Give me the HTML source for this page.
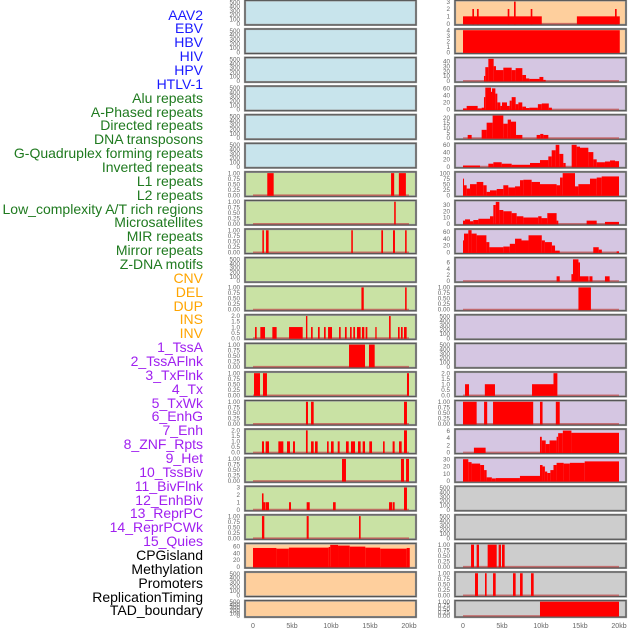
<!DOCTYPE html>
<html><head><meta charset="utf-8">
<style>
html,body{margin:0;padding:0;background:#fff;}
body{width:630px;height:630px;overflow:hidden;position:relative;font-family:"Liberation Sans",sans-serif;}
#labels{position:absolute;left:0;top:0;width:630px;height:630px;}
.lab{position:absolute;right:427px;font-size:14px;line-height:14px;white-space:nowrap;}
svg{position:absolute;left:0;top:0;}
</style></head><body>
<div id="labels"></div>
<svg id="chart" width="630" height="630"></svg>
<script>
// ---- Track labels ----
const labelNames = ["AAV2","EBV","HBV","HIV","HPV","HTLV-1","Alu repeats","A-Phased repeats","Directed repeats","DNA transposons","G-Quadruplex forming repeats","Inverted repeats","L1 repeats","L2 repeats","Low_complexity A/T rich regions","Microsatellites","MIR repeats","Mirror repeats","Z-DNA motifs","CNV","DEL","DUP","INS","INV","1_TssA","2_TssAFlnk","3_TxFlnk","4_Tx","5_TxWk","6_EnhG","7_Enh","8_ZNF_Rpts","9_Het","10_TssBiv","11_BivFlnk","12_EnhBiv","13_ReprPC","14_ReprPCWk","15_Quies","CPGisland","Methylation","Promoters","ReplicationTiming","TAD_boundary"];
const labelGroups = [6,13,5,15,5];
const groupColors = ["#1a1aff","#1f7a1f","#ffa500","#a020f0","#000000"];

// ---- tick label sets ----
const T500 = [0,100,200,300,400,500];
const T1 = [0,0.25,0.5,0.75,1];
const T2 = [0,0.5,1,1.5,2];
const T3 = [0,1,2,3];
const T4 = [0,1,2,3,4];
const T40 = [0,10,20,30,40];
const T60 = [0,20,40,60];
const T20 = [0,5,10,15,20];
const T100 = [0,25,50,75,100];
const T30 = [0,10,20,30];
const T6 = [0,2,4,6];
const xTicks = [0,5,10,15,20];
const xTickLabels = ["0","5kb","10kb","15kb","20kb"];

// ---- data: [startKb, endKb, value] ----
const L6 = [[1.83,2.65,1],[17.7,18.1,1],[18.7,19.6,1]];
const L7 = [[18.1,18.3,1]];
const L8 = [[1.2,1.4,1],[1.67,2.0,1],[12.6,12.8,1],[16.45,16.67,1],[17.95,18.2,1],[19.5,19.7,1]];
const L10 = [[13.9,14.2,1],[19.5,19.7,1]];
const L11 = [[0.26,0.47,1],[0.94,1.54,1],[2.48,3.03,1],[4.62,6.37,1],[6.79,6.97,2],[7.44,7.65,1],[8.33,8.55,1],[9.1,9.32,1],[9.62,10.13,1],[11.03,11.24,1],[11.79,12.01,1],[12.44,12.65,1],[12.86,13.08,1],[13.33,13.8,1],[13.97,14.27,1],[14.44,14.66,1],[15.68,15.85,1],[17.44,17.65,2],[18.59,18.8,1],[18.97,19.19,1],[19.36,19.7,1]];
const L12 = [[12.31,14.36,1],[14.87,15.6,1]];
const L13 = [[0.13,0.9,1],[1.28,1.79,1],[19.74,20.0,1]];
const L14 = [[6.79,7.05,1],[7.44,7.78,1],[19.36,19.74,1]];
const L15 = [[1.15,1.41,1],[1.62,2.05,1],[3.25,3.89,1],[4.36,4.74,1],[5.13,5.38,1],[6.79,7.01,2],[7.44,7.78,1],[7.95,8.29,1],[9.49,9.7,1],[10.0,10.34,1],[10.86,11.11,1],[11.92,12.27,1],[12.56,13.08,1],[13.46,13.8,1],[14.06,14.36,1],[14.91,15.26,1],[16.67,16.88,1],[17.9,18.16,1],[18.72,19.06,1],[19.36,19.74,2]];
const L16 = [[11.41,11.92,1],[18.97,19.36,1],[19.62,20.0,1]];
const L17 = [[1.15,1.35,2.2],[1.35,1.55,1],[1.6,2.05,1],[4.62,4.87,1],[6.88,7.27,1],[10.26,10.6,1],[17.44,17.82,1],[17.9,18.16,1],[19.36,19.74,3]];
const L18 = [[1.15,1.45,1],[6.88,7.14,1],[13.59,13.8,1]];
const L19 = [[0,3.0,55],[3.0,4.6,53],[4.6,9.7,56],[9.7,9.9,58],[9.9,10.9,64],[10.9,12.4,62],[12.4,14.4,59],[14.4,16.3,56],[16.3,19.7,53],[19.7,20.1,55]];

const R0 = [[0,10.1,1],[1.2,1.41,2],[1.79,2.01,2],[5.73,5.94,2],[6.54,6.75,3],[8.68,8.89,2],[14.6,20.1,1],[19.49,19.7,2]];
const R1 = [[0,20.1,4]];
const R2 = [[2.69,2.86,10],[2.86,3.25,28],[3.25,3.93,45],[3.93,4.23,30],[4.23,5.17,22],[5.17,6.24,27],[6.24,6.75,22],[6.75,7.61,26],[7.61,8.08,12],[8.08,8.5,5],[8.5,9.8,4],[9.8,10.3,8],[10.3,10.6,2]];
const R3 = [[0,0.47,3],[0.47,1.88,10],[1.88,2.39,3],[2.39,2.69,5],[2.69,2.86,35],[2.86,3.59,62],[3.59,3.72,50],[3.72,4.15,60],[4.15,4.4,45],[4.4,4.79,20],[4.79,5.0,10],[5.0,5.64,20],[5.64,5.98,10],[5.98,6.24,25],[6.24,6.75,35],[6.75,7.1,15],[7.1,7.6,20],[7.6,8.08,8],[8.08,8.5,4],[8.5,9.6,5],[9.6,10.1,15],[10.1,11.0,17],[11.0,11.4,5]];
const R4 = [[0.6,1.11,3],[2.39,3.03,8],[3.03,3.8,15],[3.8,5.17,22],[5.17,5.73,14],[5.73,6.15,18],[6.15,6.8,16],[6.8,7.61,3],[9.44,9.9,3],[9.9,10.3,4],[10.3,10.94,3]];
const R5 = [[0,2.18,3],[3.25,3.89,8],[3.89,4.96,12],[4.96,6.24,8],[6.24,8.59,5],[8.59,9.87,10],[9.87,10.94,18],[10.94,11.37,28],[11.37,11.88,45],[11.88,12.35,60],[12.35,12.86,35],[12.86,13.16,10],[13.93,14.57,60],[14.57,15.0,55],[15.0,16.07,52],[16.07,16.71,40],[16.71,17.14,20],[17.14,18.2,12],[18.2,18.85,14],[18.85,19.49,17],[19.49,20.0,15]];
const R6 = [[0,0.13,75],[0.13,0.47,45],[0.47,0.9,30],[0.9,1.75,50],[1.75,2.6,60],[2.6,3.03,45],[3.03,3.46,15],[3.46,4.32,22],[4.32,5.17,28],[5.17,5.81,45],[5.81,6.67,35],[6.67,7.31,40],[7.31,7.74,68],[7.74,8.8,70],[8.8,9.87,60],[9.87,12.0,50],[12.0,12.44,45],[12.44,12.78,80],[12.78,14.36,100],[14.36,14.79,40],[14.79,16.28,50],[16.28,17.14,75],[17.14,17.78,80],[17.78,20.0,85]];
const R7 = [[0,0.26,5],[0.26,0.9,7],[0.9,1.32,4],[1.32,1.97,6],[1.97,3.46,8],[3.46,3.89,12],[3.89,4.2,30],[4.2,4.66,35],[4.66,5.17,22],[5.17,6.24,20],[6.24,6.88,17],[6.88,7.74,12],[7.74,9.64,10],[9.64,10.07,12],[10.07,10.81,9],[10.81,12.0,17],[12.0,12.22,5],[15.85,17.14,5],[18.2,20.0,3]];
const R8 = [[0,0.13,35],[0.13,0.68,55],[0.68,1.1,65],[1.1,1.75,55],[1.75,3.0,50],[3.0,3.38,30],[3.38,5.17,15],[5.17,6.0,17],[6.0,6.67,25],[6.67,7.5,40],[7.5,8.4,35],[8.4,10.1,50],[10.1,10.5,35],[10.5,11.4,30],[11.4,11.8,20],[11.8,12.4,5],[16.7,17.4,15],[17.4,17.8,8],[19.7,20.0,3]];
const R9 = [[12.0,12.4,1.5],[13.9,14.1,2.2],[14.1,14.8,7],[14.8,15.0,6],[15.0,16.1,1.5],[16.2,16.6,1.5],[18.2,18.8,1.5]];
const R10 = [[14.8,16.4,1]];
const R13 = [[0.26,0.77,1],[2.8,4.1,1],[8.85,11.6,1],[11.6,12.1,2]];
const R14 = [[0,1.75,1],[2.7,3.1,1],[3.85,9.0,1],[9.87,10.2,1],[11.9,12.4,1]];
const R15 = [[1.4,2.9,1.3],[9.87,10.1,4.3],[10.1,10.6,3.3],[10.6,11.1,2.3],[11.1,12.0,3.3],[12.0,12.2,4.3],[12.2,12.8,5.3],[12.8,13.9,6],[13.9,20.0,5.4]];
const R16 = [[0,0.68,30],[0.68,1.1,26],[1.1,2.2,24],[2.2,2.7,22],[2.7,3.03,15],[3.03,3.7,5],[3.7,4.2,3.5],[4.2,7.3,4],[7.3,9.87,7],[9.87,10.2,22],[10.2,10.5,20],[10.5,10.8,13],[10.8,11.2,11],[11.2,11.6,15],[11.6,12.0,22],[12.0,12.9,25],[12.9,13.7,24],[13.7,15.6,25],[15.6,20.0,27]];
const R19 = [[1.03,1.41,1],[1.75,2.05,1],[3.16,4.32,1],[4.57,4.87,1],[5.0,5.34,1]];
const R20 = [[1.54,1.92,1],[2.82,3.03,1],[3.85,4.19,1],[6.41,6.75,1],[7.31,7.65,1],[8.72,9.06,1]];
const R21 = [[9.87,20.0,1]];

const BG = {blue:"#c8e4ec",green:"#c9e2a4",peach:"#fecf9d",lav:"#d5c6e2",gray:"#cdcdcd"};
// panel definitions: [bg, ticks, ymax, data, tick format]
const leftPanels = [
 ["blue",T500,520,null,0],["blue",T500,520,null,0],["blue",T500,520,null,0],["blue",T500,520,null,0],["blue",T500,520,null,0],["blue",T500,520,null,0],
 ["green",T1,1.02,L6,2],["green",T1,1.02,L7,2],["green",T1,1.02,L8,2],["green",T500,520,null,0],["green",T1,1.02,L10,2],
 ["green",T2,2.04,L11,1],["green",T1,1.02,L12,2],["green",T1,1.02,L13,2],["green",T1,1.02,L14,2],["green",T2,2.04,L15,1],
 ["green",T1,1.02,L16,2],["green",T3,3.06,L17,0],["green",T1,1.02,L18,2],
 ["peach",T60,66,L19,0],["peach",T500,520,null,0],["peach",T500,520,null,0]
];
const rightPanels = [
 ["peach",T3,3.06,R0,0],["peach",T4,4.08,R1,0],["lav",T40,46,R2,0],["lav",T60,64,R3,0],["lav",T20,22,R4,0],["lav",T60,62,R5,0],
 ["lav",T100,102,R6,0],["lav",T30,36,R7,0],["lav",T60,66,R8,0],["lav",T6,7.3,R9,0],["lav",T1,1.02,R10,2],["lav",T500,520,null,0],
 ["lav",T500,520,null,0],["lav",T2,2.04,R13,1],["lav",T1,1.02,R14,2],["lav",T6,6.2,R15,0],["lav",T30,31,R16,0],
 ["gray",T500,520,null,0],["gray",T500,520,null,0],["gray",T1,1.02,R19,2],["gray",T1,1.02,R20,2],["gray",T1,1.02,R21,2]
];

// labels
const labDiv = document.getElementById('labels');
let gi = 0, gc = 0;
labelNames.forEach((n,i)=>{
  while (gc >= labelGroups[gi]) { gi++; gc = 0; }
  gc++;
  const d = document.createElement('div');
  d.className = 'lab';
  
  
  d.style.top = (7.5 + 13.86*i) + 'px';
  d.style.color = groupColors[gi];
  d.textContent = n;
  labDiv.appendChild(d);
});

const NS = "http://www.w3.org/2000/svg";
const svg = document.getElementById('chart');
function mk(tag, attrs, parent){ const e=document.createElementNS(NS,tag); for(const k in attrs) e.setAttribute(k,attrs[k]); (parent||svg).appendChild(e); return e; }

const cols = [{x0:245,x1:416,k0:253,k1:409,tx:240},{x0:455,x1:626,k0:463,k1:619,tx:450}];
function rowTop(i){ return 0.4 + 28.58*i; }
function rowH(i){ return i===21 ? 16.5 : 24.5; }

function drawPanel(p, ci, ri){
  const c = cols[ci];
  const top = rowTop(ri), h = rowH(ri), bot = top + h;
  const xs = k => c.k0 + (c.k1-c.k0)*k/20;
  const yb = bot - 1.2, yt = top + 0.8;
  const ys = v => yb - (yb-yt)*v/p[2];
  const g = mk('g',{});
  
  
  const bgR = mk('rect',{x:c.x0,y:top,width:c.x1-c.x0,height:h,fill:BG[p[0]],stroke:'#9a9a9a','stroke-width':2.2},g);
  
  
  mk('rect',{x:c.x0,y:top,width:c.x1-c.x0,height:h,fill:'none',stroke:'#555','stroke-width':1},g);
  if (p[3]) {
    const base = mk('line',{x1:xs(0),x2:xs(20),y1:yb,y2:yb,stroke:'#c04848','stroke-width':1.6,'stroke-opacity':0.7},g);
    
    
    p[3].forEach(s=>{
      const x1 = Math.max(xs(s[0]), c.x0+0.5), x2 = Math.min(xs(s[1]), c.x1-0.5);
      const y = Math.max(ys(s[2]), top+0.5);
      const r = mk('rect',{x:x1,y:y,width:Math.max(x2-x1,1),height:yb-y+0.6,fill:'#ff0000'},g);
      
      
    });
  }
  p[1].forEach(t=>{
    const lbl = p[4]===2 ? t.toFixed(2) : p[4]===1 ? t.toFixed(1) : String(t);
    let y = ys(t);
    const tx = mk('text',{x:c.tx,y:y+2.2,'font-size':6.3,fill:'#666','text-anchor':'end','font-family':'Liberation Sans, sans-serif'},g);
    
    
    tx.textContent = lbl;
  });
}
leftPanels.forEach((p,i)=>drawPanel(p,0,i));
rightPanels.forEach((p,i)=>drawPanel(p,1,i));

cols.forEach(c=>{
  xTicks.forEach((k,i)=>{
    const t = mk('text',{x:c.k0+(c.k1-c.k0)*k/20,y:628,'font-size':7,fill:'#666','text-anchor':'middle','font-family':'Liberation Sans, sans-serif'});
    
    
    t.textContent = xTickLabels[i];
  });
});
</script>
</body></html>
